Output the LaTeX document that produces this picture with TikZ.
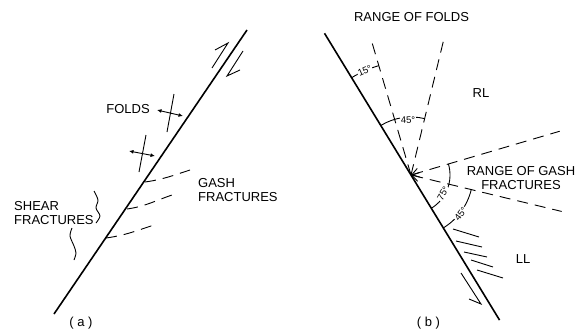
\documentclass[tikz,border=0pt]{standalone}
\usepackage{fontspec}
\setmainfont{Liberation Sans}
\usetikzlibrary{arrows.meta}
\tikzset{
  fault/.style={line width=1.6pt},
  thinline/.style={line width=0.9pt},
  rangeline/.style={line width=0.9pt, dash pattern=on 11pt off 7pt},
  labeltext/.style={font=\fontsize{13}{14.5}\selectfont, inner sep=0pt},
  angletext/.style={font=\fontsize{9.5}{10}\selectfont, inner sep=0.6pt, fill=white},
}
\begin{document}
\begin{tikzpicture}[x=1pt, y=1pt, >={Latex[length=4.5pt,width=4pt]}]
\useasboundingbox (0,0) rectangle (576,-332);
% (a) fault with folds and fractures
\begin{scope}
\draw[fault] (54,-314) -- (247,-30);
\draw[thinline] (212,-68) -- (228,-43) -- (215,-50);
\draw[thinline] (243,-51) -- (227,-76) -- (240,-70);
% folds
\draw[thinline] (174,-94) -- (167,-132);
\draw[thinline, <->] (157,-110) -- (183,-116);
\draw[thinline] (146,-135) -- (139,-172);
\draw[thinline, <->] (129,-151) -- (155,-156);
\node[labeltext] (foldsa) at (128,-109) {FOLDS};
% gash fractures
\draw[rangeline] (145,-182) to[out=8, in=198] (190,-170);
\draw[rangeline] (127,-209) to[out=8, in=198] (175,-194);
\draw[rangeline] (106,-238) to[out=8, in=198] (157,-224);
\node[labeltext, anchor=west, align=left] (gasha) at (198,-190) {GASH\\FRACTURES};
% shear fractures
\draw[thinline] plot[smooth] coordinates {(94,-191) (98,-200) (96,-208) (100,-216) (96,-223)};
\draw[thinline] plot[smooth] coordinates {(72,-228) (70,-236) (74,-246) (76,-253) (74,-260)};
\node[labeltext, anchor=west, align=left] (sheara) at (14,-213) {SHEAR\\FRACTURES};
\node[labeltext] (capa) at (81,-323) {( a )};
\end{scope}
% (b) ranges of folds and gash fractures
\begin{scope}
\coordinate (P) at (411,-175);
\draw[fault] (P) ++(121.4:166) -- ++(-58.6:336);
\draw[thinline] (461,-273) -- (481,-304) -- (469,-299);
% folds
\draw[rangeline] (P) -- ++(106.4:143);
\draw[rangeline] (P) -- ++(76.4:142);
\draw[thinline] (P) ++(121.4:114) arc[start angle=121.4, end angle=106.4, radius=114];
\draw[thinline] (P) ++(121.4:58) arc[start angle=121.4, end angle=76.4, radius=58];
\path (P) ++(113.9:114) node[angletext, rotate=24] (a15) {15°};
\path (P) ++(93:55) node[angletext, rotate=3] (a45f) {45°};
\node[labeltext] (foldsb) at (411.5,-17) {RANGE OF FOLDS};
% gash fractures
\draw[rangeline, {Straight Barb[length=7pt,width=9pt]}-] (P) -- ++(16.4:155);
\draw[rangeline, {Straight Barb[length=7pt,width=9pt]}-] (P) -- ++(-13.6:155);
\draw[thinline] (P) ++(-58.6:39) arc[start angle=-58.6, end angle=16.4, radius=39];
\draw[thinline] (P) ++(-58.6:62) arc[start angle=-58.6, end angle=-13.6, radius=62];
\path (P) ++(-30:37) node[angletext, rotate=60] (a75) {75°};
\path (P) ++(-38:63) node[angletext, rotate=52] (a45g) {45°};
\node[labeltext, align=center] (gashb) at (521,-178) {RANGE OF GASH\\FRACTURES};
\draw[thinline] (453,-229) -- (479,-237);
\draw[thinline] (456,-241) -- (482,-247);
\draw[thinline] (464,-252) -- (487,-257);
\draw[thinline] (471,-260) -- (493,-267);
\draw[thinline] (477,-270) -- (503,-278);
\node[labeltext] (rl) at (481,-93) {RL};
\node[labeltext] (ll) at (523,-259) {LL};
\node[labeltext] (capb) at (428.5,-323) {( b )};
\end{scope}
\end{tikzpicture}
\end{document}
